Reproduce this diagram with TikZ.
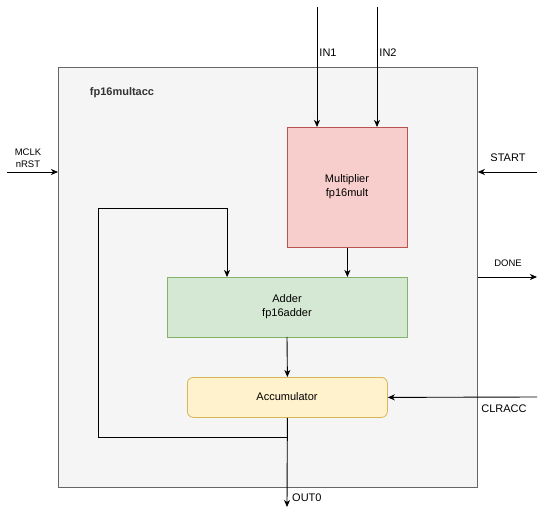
\documentclass[tikz,border=0pt]{standalone}
\usepackage{fontspec}
\setmainfont{Liberation Sans}
\usetikzlibrary{arrows.meta}
\definecolor{outerfill}{HTML}{F5F5F5}
\definecolor{outerline}{HTML}{666666}
\definecolor{redfill}{HTML}{F8CECC}
\definecolor{redline}{HTML}{B85450}
\definecolor{greenfill}{HTML}{D5E8D4}
\definecolor{greenline}{HTML}{82B366}
\definecolor{yellowfill}{HTML}{FFF2CC}
\definecolor{yellowline}{HTML}{D6B656}
\begin{document}
\begin{tikzpicture}[x=1pt,y=-1pt,
  lbl/.style={font=\fontsize{11}{13}\selectfont, inner sep=0pt},
  small/.style={font=\fontsize{9.5}{11.5}\selectfont, inner sep=0pt, align=center},
  blk/.style={draw, line width=0.8pt, font=\fontsize{11}{14}\selectfont, align=center, inner sep=0pt},
  wire/.style={line width=0.9pt, -{Stealth[length=7pt,width=6pt,inset=2pt]}},
  plain/.style={line width=0.9pt}]
\useasboundingbox (0,0) rectangle (546,516);
% outer
\node[draw=outerline, fill=outerfill, line width=0.8pt, minimum width=419pt, minimum height=420pt, inner sep=0pt, anchor=north west] (outer) at (58,67) {};
\node[font=\bfseries\fontsize{11}{13}\selectfont, inner sep=0pt, text=black!80] (title) at (122,93) {fp16multacc};
% blocks
\node[blk, draw=redline, fill=redfill, minimum width=120pt, minimum height=120pt, anchor=north west] (mult) at (287,127) {};
\node[font=\fontsize{11}{14}\selectfont, align=center] (multtxt) at (347,187) {Multiplier\\fp16mult};
\node[blk, draw=greenline, fill=greenfill, minimum width=240pt, minimum height=60pt, anchor=north west] (add) at (167,277) {};
\node[font=\fontsize{11}{14}\selectfont, align=center] (addtxt) at (287,307) {Adder\\fp16adder};
\node[blk, draw=yellowline, fill=yellowfill, rounded corners=6pt, minimum width=200pt, minimum height=40pt, anchor=north west] (acc) at (187,377) {};
\node[font=\fontsize{11}{14}\selectfont] (acctxt) at (287,397) {Accumulator};
% external coordinates
\coordinate (in1s) at (317,7);
\coordinate (in2s) at (377,7);
\coordinate (clks) at (7,172);
\coordinate (starts) at (537,172);
\coordinate (donee) at (537,277);
\coordinate (clrs) at (537,397);
\coordinate (oute) at (287,507);
\coordinate (fb1) at (287,437);
\coordinate (fb2) at (98,437);
\coordinate (fb3) at (98,208);
\coordinate (fb4) at (227,208);
% wires
\draw[wire] (in1s) -- (in1s |- mult.north);
\draw[wire] (in2s) -- (in2s |- mult.north);
\draw[wire] (clks) -- (clks -| outer.west);
\draw[wire] (starts) -- (starts -| outer.east);
\draw[wire] (donee -| outer.east) -- (donee);
\draw[wire] (clrs) -- (acc.east);
\draw[wire] (mult.south) -- (mult.south |- add.north);
\draw[wire] (287,337) -- (acc.north);
\draw[wire] (acc.south) -- (oute);
\draw[plain] (fb1) -- (fb2) -- (fb3) -- (fb4);
\draw[wire] (fb4) -- (fb4 |- add.north);
% labels
\node[lbl] (in1l) at (328,53) {IN1};
\node[lbl] (in2l) at (388,53) {IN2};
\node[small] (clkl) at (28,158) {MCLK\\nRST};
\node[lbl] (startl) at (508,158) {START};
\node[small] (donel) at (508,263) {DONE};
\node[lbl] (clrl) at (504,409) {CLRACC};
\node[lbl, anchor=west] (outl) at (292,498) {OUT0};
\end{tikzpicture}
\end{document}
